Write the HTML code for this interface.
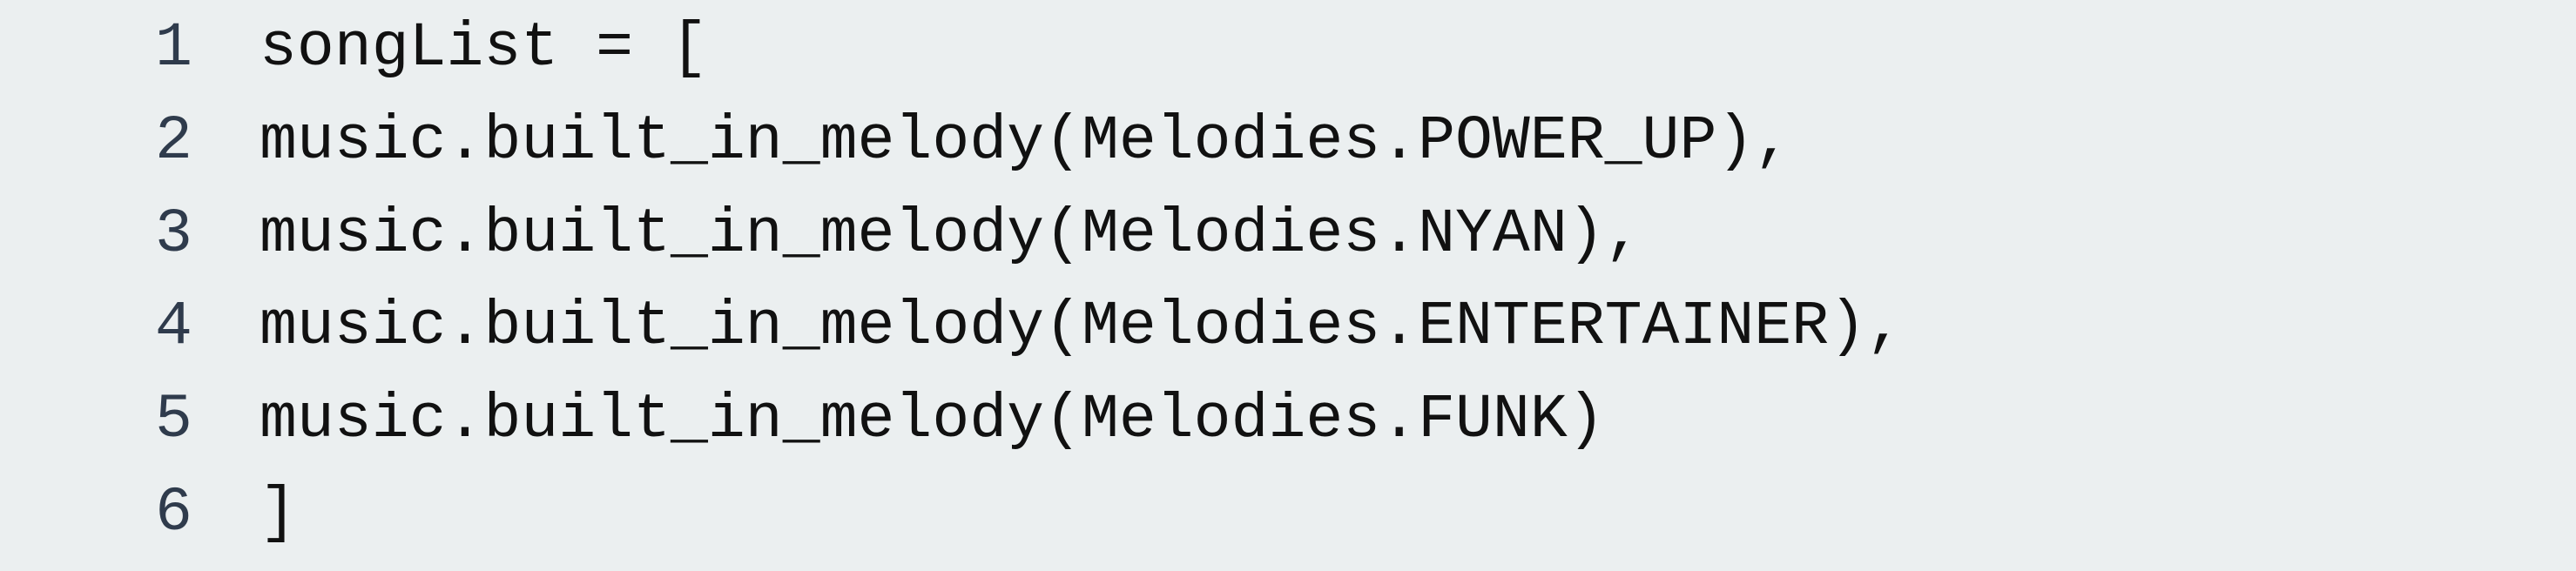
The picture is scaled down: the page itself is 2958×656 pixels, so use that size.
<!DOCTYPE html>
<html><head><style>
html,body{margin:0;padding:0;}
body{width:2958px;height:656px;background:#ebeff0;position:relative;overflow:hidden;font-family:"Liberation Mono",monospace;font-size:71.5px;}
.l{position:absolute;left:0;height:107px;white-space:pre;line-height:107px;}
.n{position:absolute;left:178px;color:#2f3b4c;}
.c{position:absolute;left:298px;color:#111;}
</style></head><body>
<div class="l" style="top:2px"><span class="n">1</span><span class="c">songList = [</span></div>
<div class="l" style="top:109px"><span class="n">2</span><span class="c">music.built_in_melody(Melodies.POWER_UP),</span></div>
<div class="l" style="top:216px"><span class="n">3</span><span class="c">music.built_in_melody(Melodies.NYAN),</span></div>
<div class="l" style="top:322px"><span class="n">4</span><span class="c">music.built_in_melody(Melodies.ENTERTAINER),</span></div>
<div class="l" style="top:429px"><span class="n">5</span><span class="c">music.built_in_melody(Melodies.FUNK)</span></div>
<div class="l" style="top:536px"><span class="n">6</span><span class="c">]</span></div>
</body></html>
